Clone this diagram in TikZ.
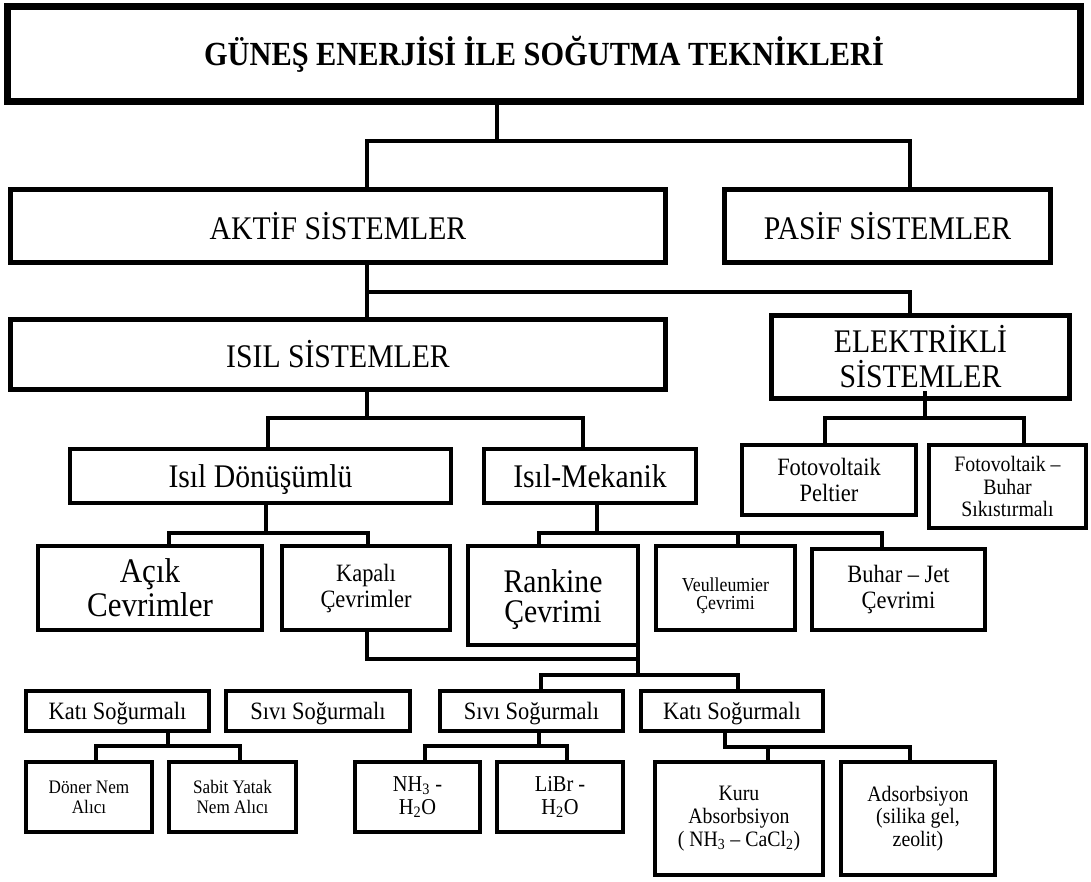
\documentclass[tikz,border=0pt]{standalone}
\usepackage{fontspec}
\setmainfont[FakeStretch=0.9]{Liberation Serif}
\usetikzlibrary{calc}

\begin{document}
\begin{tikzpicture}[
    x=0.75pt, y=-0.75pt,
    sz/.style 2 args={minimum width=#1*0.75pt, minimum height=#2*0.75pt},
    box/.style={draw=black, fill=white, line width=3.2pt, inner sep=0pt, align=center},
    bigbox/.style={box, line width=3.9pt},
    headbox/.style={box, line width=5.25pt},
    oneline/.style={text depth=0pt},
    conn/.style={draw=black, line width=2.8pt},
    fbig/.style={font=\fontsize{24.75}{26}\selectfont},
    fmid/.style={font=\fontsize{18.7}{19.5}\selectfont},
    fsmall/.style={font=\fontsize{16.5}{17}\selectfont},
    ftiny/.style={font=\fontsize{14.3}{15}\selectfont},
]
\useasboundingbox (0,0) rectangle (1091,881);

% --- TOP LEVELS ---
\node[headbox, sz={1073}{95}, font=\fontsize{25.3}{27}\selectfont\bfseries] (title) at (544,54) {GÜNEŞ ENERJİSİ İLE SOĞUTMA TEKNİKLERİ};
\node[bigbox, sz={655}{73}, fbig] (aktif) at (338,226) {AKTİF SİSTEMLER};
\node[bigbox, sz={326}{73}, fbig] (pasif) at (887.5,226) {PASİF SİSTEMLER};
\node[bigbox, sz={655}{70}, fbig] (isil) at (338,354.5) {ISIL SİSTEMLER};
\node[bigbox, sz={298}{83}, font=\fontsize{24.75}{26.25}\selectfont] (elek) at (920.5,357) {ELEKTRİKLİ\\SİSTEMLER};

% --- SECOND ROW ---
\node[box, sz={381}{54}, fbig, oneline] (isildon) at (260.5,476) {Isıl Dönüşümlü};
\node[box, sz={212}{54}, fbig] (isilmek) at (590,476) {Isıl-Mekanik};
\node[box, sz={174}{70}, fmid] (foto1) at (829,480) {Fotovoltaik\\Peltier};
\node[box, sz={157}{83}, fsmall] (foto2) at (1007.5,486.5) {Fotovoltaik --\\Buhar\\Sıkıstırmalı};

% --- CYCLES ---
\node[box, sz={224}{84}, font=\fontsize{25.85}{25.5}\selectfont] (acik) at (150,588) {Açık\\Cevrimler};
\node[box, sz={168}{84}, fmid] (kapali) at (366,588) {Kapalı\\Çevrimler};
\node[box, sz={170}{99}, font=\fontsize{24.75}{22.5}\selectfont] (rankine) at (553,595.5) {\rule{0pt}{24pt}Rankine\\Çevrimi};
\node[box, sz={139}{84}, font=\fontsize{14.85}{14}\selectfont] (veull) at (725.5,588) {\rule{0pt}{22pt}Veulleumier\\Çevrimi};
\node[box, sz={173}{81}, fmid] (buhar) at (898.5,589.5) {Buhar -- Jet\\Çevrimi};

% --- SORPTION ---
\node[box, sz={183}{40}, fmid, oneline] (kati1) at (117.5,711) {Katı Soğurmalı};
\node[box, sz={184}{40}, fmid, oneline] (sivi1) at (318,711) {Sıvı Soğurmalı};
\node[box, sz={183}{40}, fmid, oneline] (sivi2) at (531.5,711) {Sıvı Soğurmalı};
\node[box, sz={182}{40}, fmid, oneline] (kati2) at (732,711) {Katı Soğurmalı};

\node[box, sz={126}{70}, ftiny] (doner) at (89,797) {Döner Nem\\Alıcı};
\node[box, sz={127}{70}, ftiny] (sabit) at (232.5,797) {Sabit Yatak\\Nem Alıcı};
\node[box, sz={125}{70}, font=\fontsize{17}{17.5}\selectfont] (nh3) at (417.5,797) {NH\textsubscript{3} -\\H\textsubscript{2}O};
\node[box, sz={126}{70}, font=\fontsize{17}{17.5}\selectfont] (libr) at (560,797) {LiBr -\\H\textsubscript{2}O};
\node[box, sz={168}{113}, fsmall] (kuru) at (739,818.5) {Kuru\\Absorbsiyon\\( NH\textsubscript{3} -- CaCl\textsubscript{2})};
\node[box, sz={154}{113}, fsmall] (ads) at (918,818.5) {Adsorbsiyon\\(silika gel,\\zeolit)};

% --- CONNECTORS ---
\coordinate (a0) at (497,141);
\coordinate (a1) at (367,141);
\coordinate (a2) at (910,141);
\draw[conn] (title.south -| a0) -- (a0);
\draw[conn] (aktif.north -| a1) -- (a1) -- (a2) -- (pasif.north -| a2);

\coordinate (b1) at (367,292);
\coordinate (b2) at (910,292);
\draw[conn] (aktif.south -| b1) -- (isil.north -| b1);
\draw[conn] (b1) -- (b2) -- (elek.north -| b2);

\coordinate (c0) at (367,418);
\coordinate (c1) at (268,418);
\coordinate (c2) at (583,418);
\draw[conn] (isil.south -| c0) -- (c0);
\draw[conn] (isildon.north -| c1) -- (c1) -- (c2) -- (isilmek.north -| c2);

\coordinate (d0) at (925,418);
\coordinate (d1) at (825,418);
\coordinate (d2) at (1024,418);
\draw[conn] ($(elek.south -| d0)+(0,-10)$) -- (d0);
\draw[conn] (foto1.north -| d1) -- (d1) -- (d2) -- (foto2.north -| d2);

\coordinate (e0) at (266,533);
\coordinate (e1) at (169,533);
\coordinate (e2) at (368,533);
\draw[conn] (isildon.south -| e0) -- (e0);
\draw[conn] (acik.north -| e1) -- (e1) -- (e2) -- (kapali.north -| e2);

\coordinate (f0) at (597,533);
\coordinate (f1) at (539,533);
\coordinate (f2) at (738,533);
\coordinate (f3) at (882,533);
\draw[conn] (isilmek.south -| f0) -- (f0);
\draw[conn] (rankine.north -| f1) -- (f1) -- (f3) -- (buhar.north -| f3);
\draw[conn] (f2) -- (veull.north -| f2);

\coordinate (g1) at (367,659);
\coordinate (g2) at (638,675);
\draw[conn] (kapali.south -| g1) -- (g1) -- (g1 -| g2);
\draw[conn] (rankine.south -| g2) -- (g2);

\coordinate (h1) at (541,675);
\coordinate (h2) at (738,675);
\draw[conn] (sivi2.north -| h1) -- (h1) -- (h2) -- (kati2.north -| h2);

\coordinate (i0) at (168,746);
\coordinate (i1) at (96,746);
\coordinate (i2) at (240,746);
\draw[conn] (kati1.south -| i0) -- (i0);
\draw[conn] (doner.north -| i1) -- (i1) -- (i2) -- (sabit.north -| i2);

\coordinate (j0) at (539,746);
\coordinate (j1) at (425,746);
\coordinate (j2) at (567,746);
\draw[conn] (sivi2.south -| j0) -- (j0);
\draw[conn] (nh3.north -| j1) -- (j1) -- (j2) -- (libr.north -| j2);

\coordinate (k0) at (725,747);
\coordinate (k1) at (768,747);
\coordinate (k2) at (910,747);
\draw[conn] (kati2.south -| k0) -- (k0) -- (k2) -- (ads.north -| k2);
\draw[conn] (k1) -- (kuru.north -| k1);

\end{tikzpicture}
\end{document}
